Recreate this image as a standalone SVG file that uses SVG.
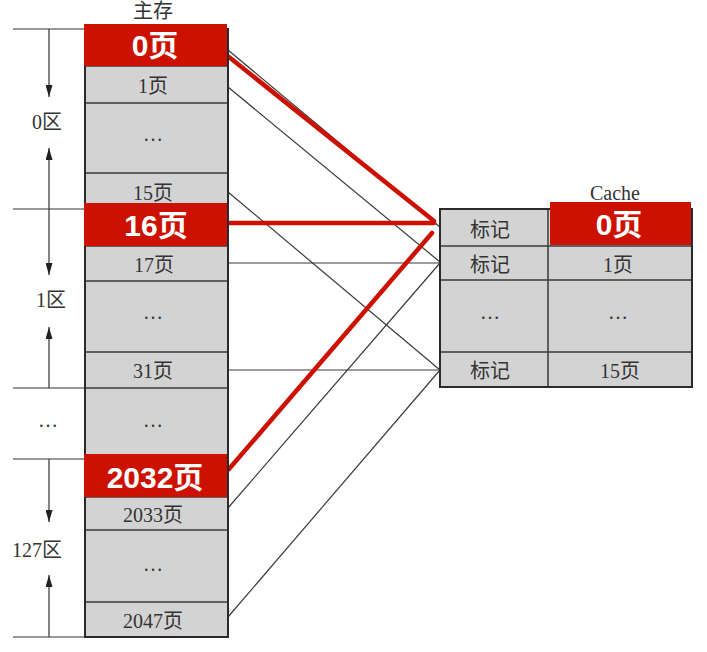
<svg xmlns="http://www.w3.org/2000/svg" width="707" height="652" viewBox="0 0 707 652">
  <style>
    .cell { fill: #d3d3d3; }
    .frame { fill: none; stroke: #2b2b2b; stroke-width: 2; }
    .rule { stroke: #3a3a3a; stroke-width: 1.5; }
    .hl { fill: #cc1100; }
    .lbl { font-family: "Liberation Serif", "Noto Sans CJK SC", serif; font-size: 20px; fill: #333; text-anchor: middle; }
    .big { font-family: "Liberation Sans", "Noto Sans CJK SC", sans-serif; font-size: 30px; font-weight: bold; fill: #fff; text-anchor: middle; }
    .thin { stroke: #3a3a3a; stroke-width: 1.2; fill: none; }
    .red { stroke: #cc1100; stroke-width: 4.5; fill: none; stroke-linecap: round; }
    .dim { stroke: #333; stroke-width: 1.2; fill: none; }
  </style>
  <defs>
    <marker id="tip" viewBox="0 0 12 7" markerWidth="12" markerHeight="7" refX="12" refY="3.5" orient="auto" markerUnits="userSpaceOnUse">
      <path d="M0,0 L12,3.5 L0,7 z" fill="#222"/>
    </marker>
  </defs>

  <rect width="707" height="652" fill="#fff"/>

  <!-- zone dimension marks on the left -->
  <g id="zones">
    <g class="dim">
      <line x1="13" y1="29" x2="85" y2="29"/>
      <line x1="13" y1="209" x2="85" y2="209"/>
      <line x1="13" y1="388" x2="85" y2="388"/>
      <line x1="13" y1="459" x2="85" y2="459"/>
      <line x1="13" y1="637" x2="85" y2="637"/>
      <line x1="49" y1="29" x2="49" y2="97" marker-end="url(#tip)"/>
      <line x1="49" y1="209" x2="49" y2="148" marker-end="url(#tip)"/>
      <line x1="49" y1="209" x2="49" y2="275" marker-end="url(#tip)"/>
      <line x1="49" y1="388" x2="49" y2="327" marker-end="url(#tip)"/>
      <line x1="49" y1="459" x2="49" y2="522" marker-end="url(#tip)"/>
      <line x1="49" y1="637" x2="49" y2="575" marker-end="url(#tip)"/>
    </g>
    <text class="lbl" x="47" y="129">0区</text>
    <text class="lbl" x="51" y="307">1区</text>
    <text class="lbl" x="48" y="427">…</text>
    <text class="lbl" x="37" y="557">127区</text>
  </g>

  <!-- connectors between main memory pages and cache lines -->
  <g id="connectors">
    <line class="thin" x1="228" y1="50" x2="440" y2="227"/>
    <line class="thin" x1="228" y1="87" x2="440" y2="262"/>
    <line class="thin" x1="228" y1="192" x2="440" y2="370"/>
    <line class="thin" x1="228" y1="263" x2="440" y2="263"/>
    <line class="thin" x1="228" y1="370" x2="440" y2="370"/>
    <line class="thin" x1="228" y1="508" x2="440" y2="263"/>
    <line class="thin" x1="228" y1="617" x2="440" y2="370"/>
    <line class="red" x1="229" y1="57" x2="434" y2="221"/>
    <line class="red" x1="229" y1="223" x2="434" y2="223"/>
    <line class="red" x1="229" y1="469" x2="432" y2="233"/>
  </g>

  <!-- main memory column -->
  <g id="main-memory">
    <text class="lbl" x="153" y="18">主存</text>
    <rect class="cell" x="85" y="29" width="143" height="608"/>
    <g class="rule">
      <line x1="85" y1="66" x2="228" y2="66"/>
      <line x1="85" y1="103" x2="228" y2="103"/>
      <line x1="85" y1="173" x2="228" y2="173"/>
      <line x1="85" y1="210" x2="228" y2="210"/>
      <line x1="85" y1="246" x2="228" y2="246"/>
      <line x1="85" y1="281" x2="228" y2="281"/>
      <line x1="85" y1="352" x2="228" y2="352"/>
      <line x1="85" y1="388" x2="228" y2="388"/>
      <line x1="85" y1="459" x2="228" y2="459"/>
      <line x1="85" y1="497" x2="228" y2="497"/>
      <line x1="85" y1="530" x2="228" y2="530"/>
      <line x1="85" y1="602" x2="228" y2="602"/>
    </g>
    <rect class="frame" x="85" y="29" width="143" height="608"/>
    <text class="lbl" x="153" y="93">1页</text>
    <text class="lbl" x="153" y="141">…</text>
    <text class="lbl" x="153" y="200">15页</text>
    <text class="lbl" x="154" y="272">17页</text>
    <text class="lbl" x="153" y="319">…</text>
    <text class="lbl" x="153" y="378">31页</text>
    <text class="lbl" x="153" y="427">…</text>
    <text class="lbl" x="153" y="522">2033页</text>
    <text class="lbl" x="153" y="571">…</text>
    <text class="lbl" x="153" y="628">2047页</text>

    <g id="page-0">
      <rect class="hl" x="84" y="24" width="143" height="42"/>
      <text class="big" x="155" y="56">0页</text>
    </g>
    <g id="page-16">
      <rect class="hl" x="84" y="203" width="143" height="43"/>
      <text class="big" x="156" y="236">16页</text>
    </g>
    <g id="page-2032">
      <rect class="hl" x="84" y="454" width="143" height="43"/>
      <text class="big" x="155" y="488">2032页</text>
    </g>
    <line x1="228" y1="28" x2="228" y2="638" stroke="#2b2b2b" stroke-width="2"/>
  </g>

  <!-- cache table -->
  <g id="cache">
    <text class="lbl" x="615" y="200">Cache</text>
    <rect class="cell" x="440" y="209" width="252" height="178"/>
    <g class="rule">
      <line x1="440" y1="246" x2="692" y2="246"/>
      <line x1="440" y1="280" x2="692" y2="280"/>
      <line x1="440" y1="352" x2="692" y2="352"/>
      <line x1="548" y1="209" x2="548" y2="387"/>
    </g>
    <rect class="frame" x="440" y="209" width="252" height="178"/>
    <text class="lbl" x="490" y="237">标记</text>
    <text class="lbl" x="490" y="272">标记</text>
    <text class="lbl" x="490" y="319">…</text>
    <text class="lbl" x="490" y="378">标记</text>
    <text class="lbl" x="618" y="272">1页</text>
    <text class="lbl" x="618" y="319">…</text>
    <text class="lbl" x="620" y="378">15页</text>
    <g id="cache-line-0">
      <rect class="hl" x="550" y="202" width="141" height="43"/>
      <text class="big" x="619" y="235">0页</text>
    </g>
  </g>
</svg>
